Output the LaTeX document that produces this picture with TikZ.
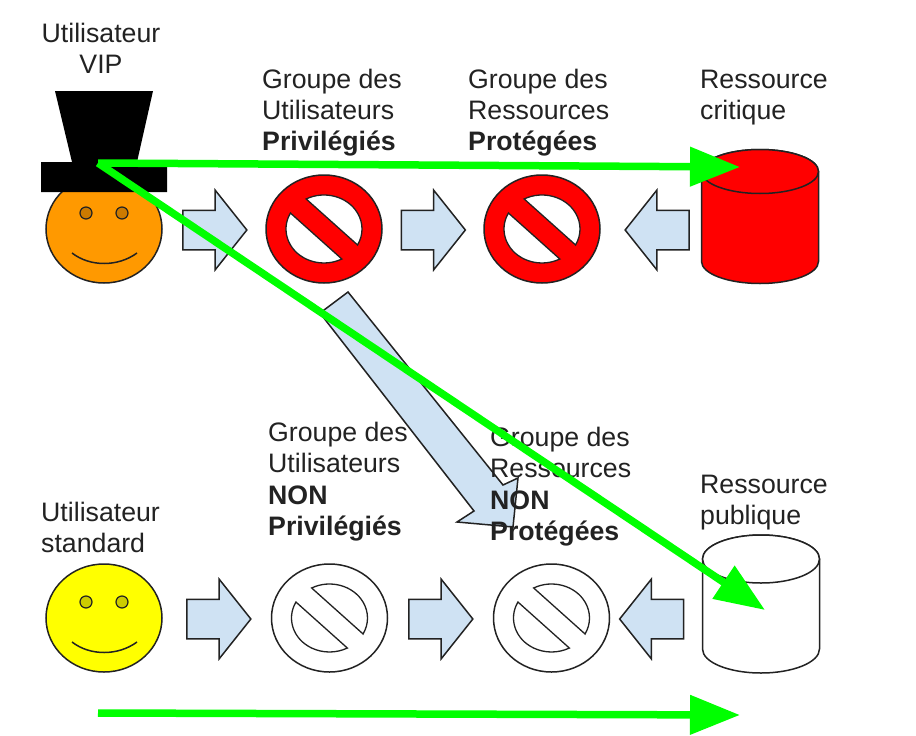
\documentclass[tikz,border=0pt]{standalone}
\usepackage{fontspec}
\setmainfont{Liberation Sans}
\usepackage{tikz}
\usetikzlibrary{shapes,arrows.meta}
\definecolor{flowblue}{HTML}{CFE2F3}
\definecolor{inkgrey}{HTML}{222222}
\definecolor{vipface}{HTML}{FF9900}
\definecolor{vipeye}{HTML}{CC7A00}
\definecolor{stdface}{HTML}{FFFF00}
\definecolor{stdeye}{HTML}{CCCC00}
\definecolor{access}{HTML}{00FF00}
\definecolor{signred}{HTML}{FF0000}
\tikzstyle{label}=[inner sep=0pt,anchor=north west,align=left,text=inkgrey,font=\fontsize{26.7}{31}\selectfont]
\tikzstyle{face}=[ellipse,draw=inkgrey,line width=1.5pt,minimum width=116,minimum height=108,inner sep=0pt]
\tikzstyle{eye}=[circle,draw=inkgrey,line width=1.2pt,minimum size=12,inner sep=0pt]
\tikzstyle{signdisc}=[ellipse,draw=inkgrey,line width=1.5pt,minimum width=116,minimum height=108,inner sep=0pt]
\tikzstyle{signhole}=[draw=inkgrey,fill=white,line width=1.3pt]
\tikzstyle{flow}=[single arrow,draw=inkgrey,fill=flowblue,line width=1.5pt,inner sep=0pt,text height=38pt,text depth=0pt,minimum height=64,single arrow head extend=20,single arrow tip angle=103]
\tikzstyle{storeline}=[draw=inkgrey,line width=1.5pt]
\tikzstyle{grant}=[draw=access,line width=7.5pt,-{Triangle[length=50,width=38]}]
\newcommand{\nosign}[3]{
        \node[signdisc,fill=#3] (#1) at (#2) {};
        \draw[signhole] ([shift={(118:38 and 34)}]#1.center) arc[x radius=38,y radius=34,start angle=118,end angle=-28] -- cycle;
        \draw[signhole] ([shift={(152:38 and 34)}]#1.center) arc[x radius=38,y radius=34,start angle=152,end angle=298] -- cycle;
}
\newcommand{\smiley}[4]{
        \node[face,fill=#3] (#1) at (#2) {};
        \node[eye,fill=#4] (#1left) at ([shift={(-18,16)}]#1.center) {};
        \node[eye,fill=#4] (#1right) at ([shift={(18,16)}]#1.center) {};
        \draw[draw=inkgrey,line width=1.5pt] ([shift={(-32,-24)}]#1.center) .. controls ([shift={(-14,-38)}]#1.center) and ([shift={(14,-38)}]#1.center) .. ([shift={(33,-24)}]#1.center);
}
\newcommand{\storage}[4]{
        \coordinate (#1) at (#2);
        \begin{scope}[shift={(#2)}]
        \draw[storeline,fill=#3] (-58.5,-45) arc[x radius=58.5,y radius=#4,start angle=180,end angle=360] -- (58.5,45) arc[x radius=58.5,y radius=#4,start angle=0,end angle=180] -- cycle;
        \draw[storeline,fill=#3] (0,45) ellipse[x radius=58.5,y radius=#4];
        \end{scope}
}
\begin{document}
\begin{tikzpicture}[x=1pt,y=1pt]
        \useasboundingbox (0,0) rectangle (916,-736);
        % top row
        \smiley{vip}{104,-229}{vipface}{vipeye}
        \fill[black] (55,-91) -- (153,-91) -- (137,-162) -- (167,-162) -- (167,-192) -- (41,-192) -- (41,-162) -- (72,-162) -- cycle;
        \nosign{privusers}{324,-229}{signred}
        \nosign{protres}{542,-229}{signred}
        \storage{critical}{760,-216.5}{signred}{22}
        \node[flow] (a1) at (207,-230) {};
        \node[flow] (a2) at (425.5,-230) {};
        \node[flow,shape border rotate=180] (a3) at (665,-230) {};
        % bottom row
        \smiley{std}{104,-618}{stdface}{stdeye}
        \nosign{stdusers}{329.5,-618}{white}
        \nosign{pubres}{551.5,-618}{white}
        \storage{public}{761,-604}{white}{24}
        \node[flow] (a4) at (211,-619) {};
        \node[flow] (a5) at (433,-619) {};
        \node[flow,shape border rotate=180] (a6) at (659.5,-619) {};
        % link between the two rows
        \draw[draw=inkgrey,fill=flowblue,line width=1.5pt] (320,-313) -- (348,-292) -- (503,-485) -- (518,-478) -- (513,-527) -- (457,-522) -- (474,-511) -- cycle;
        % labels
        \node[label,align=center,anchor=north] (vipname) at (101,-22.5) {Utilisateur\\VIP};
        \node[label] (privname) at (262,-68.5) {Groupe des\\Utilisateurs\\\textbf{Privilégiés}};
        \node[label] (protname) at (468,-68.5) {Groupe des\\Ressources\\\textbf{Protégées}};
        \node[label] (critname) at (700,-69.5) {Ressource\\critique};
        \node[label] (stdname) at (41,-501.5) {Utilisateur\\standard};
        \node[label] (nonprivname) at (268,-421.5) {Groupe des\\Utilisateurs\\[1pt]\textbf{NON}\\\textbf{Privilégiés}};
        \node[label] (nonprotname) at (490,-426.5) {Groupe des\\Ressources\\[1pt]\textbf{NON}\\\textbf{Protégées}};
        \node[label] (pubname) at (700,-474.5) {Ressource\\publique};
        % green arrows
        \coordinate (hatpoint) at (98,-163);
        \coordinate (critpoint) at (740,-167);
        \coordinate (pubpoint) at (765,-610);
        \coordinate (stdpoint) at (98,-713);
        \coordinate (stdend) at (740,-715);
        \draw[grant] (hatpoint) -- (critpoint);
        \draw[grant] (hatpoint) -- (pubpoint);
        \draw[grant] (stdpoint) -- (stdend);
\end{tikzpicture}
\end{document}
